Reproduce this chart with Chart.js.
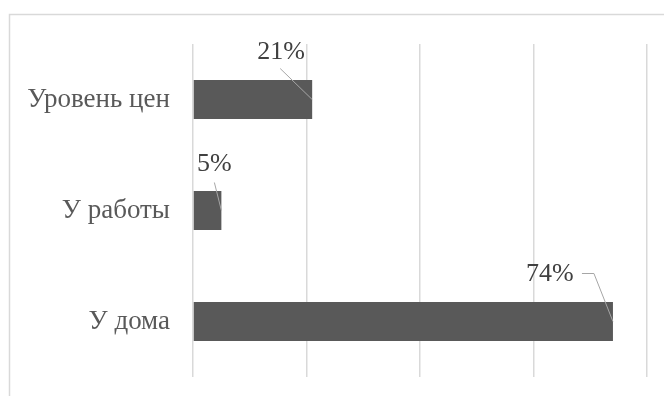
<!DOCTYPE html>
<html>
<head>
<meta charset="utf-8">
<script src="https://cdn.jsdelivr.net/npm/chart.js@4"></script>
<style>
  html, body { margin: 0; padding: 0; background: #fff; }
  #wrap { width: 664px; height: 396px; }
</style>
</head>
<body>
<div id="wrap"><canvas id="chart" width="664" height="396"></canvas></div>
<script>
// --- Datos ---
const categorias = ['Уровень цен', 'У работы', 'У дома'];
const valores = [0.21, 0.05, 0.74];
const etiquetas = ['21%', '5%', '74%'];

const fuente = '"Liberation Serif"';

// --- Marco del gráfico ---
const marcoPlugin = {
    id: 'marco',
    beforeDraw(chart) {
        const ctx = chart.ctx;
        ctx.save();
        ctx.strokeStyle = '#d9d9d9';
        ctx.lineWidth = 1.5;
        ctx.strokeRect(9.5, 14.5, 720, 500);
        ctx.restore();
    }
};

// --- Etiquetas con líneas guía ---
// desplazamientos del texto respecto al extremo de la barra
const guias = [
    { dx: -31, dy: -47, linea: [[-32, -31], [0, 0]] },
    { dx: -7, dy: -46, linea: [[-7, -28], [0, 0]] },
    { dx: -63, dy: -47, linea: [[-31, -48], [-19, -48], [0, 0]] }
];

const etiquetasPlugin = {
    id: 'etiquetas',
    afterDatasetsDraw(chart) {
        const ctx = chart.ctx;
        const meta = chart.getDatasetMeta(0);
        ctx.save();
        meta.data.forEach((bar, i) => {
            const x = bar.x;
            const y = bar.y;
            const g = guias[i];
            ctx.strokeStyle = '#a6a6a6';
            ctx.lineWidth = 1;
            ctx.beginPath();
            g.linea.forEach((p, j) => {
                if (j === 0) ctx.moveTo(x + p[0], y + p[1]);
                else ctx.lineTo(x + p[0], y + p[1]);
            });
            ctx.stroke();
            ctx.fillStyle = '#404040';
            ctx.font = '26px ' + fuente;
            ctx.textAlign = 'center';
            ctx.textBaseline = 'middle';
            ctx.fillText(etiquetas[i], x + g.dx, y + g.dy);
        });
        ctx.restore();
    }
};

new Chart(document.getElementById('chart'), {
    type: 'bar',
    data: {
        labels: categorias,
        datasets: [{
            data: valores,
            backgroundColor: '#595959',
            borderWidth: 0,
            barPercentage: 0.35,
            categoryPercentage: 1
        }]
    },
    options: {
        indexAxis: 'y',
        responsive: false,
        animation: false,
        layout: { padding: { left: 0, top: 44, right: 17, bottom: 19 } },
        plugins: {
            legend: { display: false },
            tooltip: { enabled: false }
        },
        scales: {
            x: {
                min: 0,
                max: 0.8,
                ticks: { display: false, stepSize: 0.2 },
                grid: { color: '#d9d9d9', lineWidth: 1.5, drawTicks: false },
                border: { display: false },
                afterFit(scale) { scale.height = 0; }
            },
            y: {
                grid: { display: false, drawTicks: false },
                border: { display: false },
                ticks: {
                    color: '#595959',
                    padding: 23,
                    font: { family: fuente, size: 27 }
                },
                afterFit(scale) {
                    scale.width = 193;
                    scale.paddingTop = 0;
                    scale.paddingBottom = 0;
                }
            }
        }
    },
    plugins: [marcoPlugin, etiquetasPlugin]
});
</script>
</body>
</html>
